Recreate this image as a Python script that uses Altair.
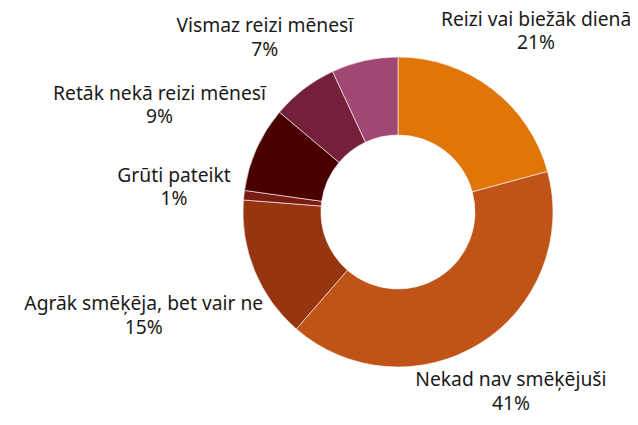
import altair as alt
import pandas as pd

categories = [
    "Reizi vai biežāk dienā",
    "Nekad nav smēķējuši",
    "Agrāk smēķēja, bet vair ne",
    "Grūti pateikt",
    "Retāk nekā reizi mēnesī",
    "Vismaz reizi mēnesī",
    "Vismaz reizi nedēļā",
]
values = [21, 41, 15, 1, 9, 7, 7]
show_label = [True, True, True, True, True, True, False]
colors = ["#e07508", "#c05316", "#983511", "#7a1c12", "#4b0000", "#74203a", "#a04873"]

df = pd.DataFrame({
    "idx": list(range(len(categories))),
    "category": categories,
    "value": values,
    "show": show_label,
})

CX, CY = 395, 204
R_OUT, R_IN = 157, 78

color = alt.Color("category:N", scale=alt.Scale(domain=categories, range=colors), legend=None)

arcs = alt.Chart(df).mark_arc(
    outerRadius=R_OUT, innerRadius=R_IN, x=CX, y=CY, stroke="white", strokeWidth=0.6
).encode(
    theta=alt.Theta("value:Q", stack=True),
    color=color,
    order=alt.Order("idx:Q"),
)

labels = alt.Chart(df).transform_joinaggregate(
    total="sum(value)"
).transform_window(
    cum="sum(value)", sort=[alt.SortField("idx")], frame=[None, 0]
).transform_filter(
    "datum.show"
).transform_calculate(
    ang="2*PI*(datum.cum - datum.value/2)/datum.total",
).transform_calculate(
    dist="170 + 4.5*length(datum.category)*abs(sin(datum.ang))",
).transform_calculate(
    px=f"{CX} + datum.dist*sin(datum.ang)",
    py=f"{CY} - datum.dist*cos(datum.ang)",
    txt="datum.category + '\\n' + datum.value + '%'",
).mark_text(
    font="Noto Sans", fontSize=19.5, color="#1a1a1a", align="center",
    baseline="middle", lineBreak="\n", lineHeight=24, dy=-12,
).encode(
    x=alt.X("px:Q", scale=None),
    y=alt.Y("py:Q", scale=None),
    text="txt:N",
)

chart = alt.layer(arcs, labels).properties(
    width=630, height=409, padding=0,
    autosize=alt.AutoSizeParams(type="none"),
).configure_view(stroke=None)

chart.save("out.html", embed_options={"renderer": "svg", "actions": False})
